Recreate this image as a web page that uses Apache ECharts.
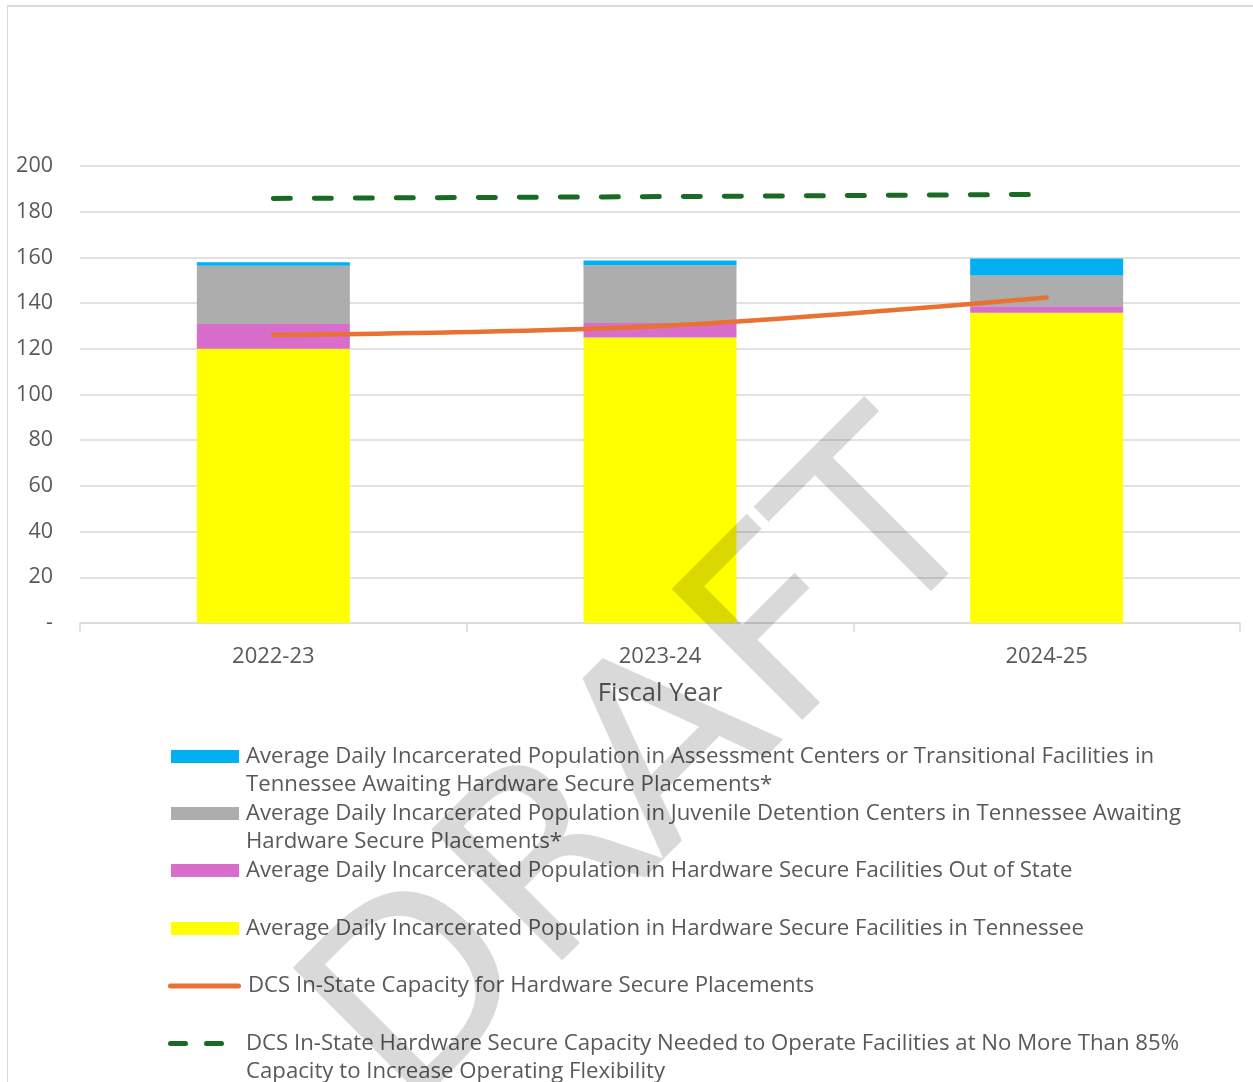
<!DOCTYPE html>
<html>
<head>
<meta charset="utf-8">
<script src="https://cdn.jsdelivr.net/npm/echarts@6/dist/echarts.min.js"></script>
<style>
  html, body { margin: 0; padding: 0; background: #fff; }
  #frame { position: absolute; left: 7px; top: 5px; width: 1260px; height: 1100px; border-left: 1px solid #d9d9d9; border-top: 2px solid #d9d9d9; }
  #chart { position: absolute; left: 0; top: 0; width: 1253px; height: 1082px; }
</style>
</head>
<body>
<div id="frame"></div>
<div id="chart"></div>
<script>
const categories = ['2022-23', '2023-24', '2024-25'];
const inStateHW = [120, 125, 135.8];
const outOfStateHW = [10.9, 6.3, 2.8];
const juvenileDetention = [25.5, 25.3, 13.5];
const assessmentCenters = [1.5, 2.0, 7.4];
const inStateCapacity = [126, 130, 142.5];
const capacityNeeded85 = [185.8, 186.6, 187.6];
const yTicks = { min: 0, max: 200, interval: 20 };

const nameBlue = 'Average Daily Incarcerated Population in Assessment Centers or Transitional Facilities in Tennessee Awaiting Hardware Secure Placements*';
const nameGray = 'Average Daily Incarcerated Population in Juvenile Detention Centers in Tennessee Awaiting Hardware Secure Placements*';
const namePink = 'Average Daily Incarcerated Population in Hardware Secure Facilities Out of State';
const nameYellow = 'Average Daily Incarcerated Population in Hardware Secure Facilities in Tennessee';
const nameOrange = 'DCS In-State Capacity for Hardware Secure Placements';
const nameGreen = 'DCS In-State Hardware Secure Capacity Needed to Operate Facilities at No More Than 85% Capacity to Increase Operating Flexibility';

const wrapped = {};
wrapped[nameBlue] = ' \nAverage Daily Incarcerated Population in Assessment Centers or Transitional Facilities in\nTennessee Awaiting Hardware Secure Placements*';
wrapped[nameGray] = ' \nAverage Daily Incarcerated Population in Juvenile Detention Centers in Tennessee Awaiting\nHardware Secure Placements*';
wrapped[nameGreen] = ' \nDCS In-State Hardware Secure Capacity Needed to Operate Facilities at No More Than 85%\nCapacity to Increase Operating Flexibility';

const FONT = '"Open Sans"';
const TXT = '#595959';
const LH = 28.5;

const ORANGE_ICON = 'path://M2.5,0 H70.5 A2.5,2.5 0 0 1 70.5,5 H2.5 A2.5,2.5 0 0 1 2.5,0 Z';
const GREEN_ICON = 'path://M2.5,0 H17.5 A2.5,2.5 0 0 1 17.5,5 H2.5 A2.5,2.5 0 0 1 2.5,0 Z M38.5,0 H53.5 A2.5,2.5 0 0 1 53.5,5 H38.5 A2.5,2.5 0 0 1 38.5,0 Z';

function leg(name, top, icon, opts) {
  opts = opts || {};
  return {
    data: [{ name: name, icon: icon }], left: opts.left || 171, top: top, padding: 0, orient: 'vertical',
    itemWidth: opts.w || 68, itemHeight: opts.h || 13, itemGap: 0,
    formatter: function (n) { return wrapped[n] || n; },
    textStyle: { color: TXT, fontFamily: FONT, fontSize: 22.2, lineHeight: LH, padding: [0, 0, 0, opts.pad || 2] }
  };
}

const chart = echarts.init(document.getElementById('chart'), null, { renderer: 'canvas' });
chart.setOption({
  animation: false,
  backgroundColor: 'transparent',
  grid: { left: 80, right: 13, top: 166, bottom: 459, containLabel: false },
  xAxis: {
    type: 'category', data: categories,
    axisLine: { lineStyle: { color: '#d9d9d9', width: 1.5 } },
    axisTick: { show: true, length: 9, lineStyle: { color: '#d9d9d9', width: 1.5 } },
    axisLabel: { color: TXT, fontFamily: FONT, fontSize: 22, margin: 23 },
    name: 'Fiscal Year', nameLocation: 'middle', nameGap: 58,
    nameTextStyle: { color: TXT, fontFamily: FONT, fontSize: 25.5 }
  },
  yAxis: {
    type: 'value', min: yTicks.min, max: yTicks.max, interval: yTicks.interval,
    axisLine: { show: false }, axisTick: { show: false },
    splitLine: { lineStyle: { color: '#d9d9d9', width: 1.5 } },
    axisLabel: { color: TXT, fontFamily: FONT, fontSize: 21.5, margin: 27, padding: [4, 0, 0, 0],
      formatter: function (v) { return v === 0 ? '-' : String(v); } }
  },
  legend: [
    leg(nameBlue, 756.5 - 1.5 * LH, 'rect'),
    leg(nameGray, 813.5 - 1.5 * LH, 'rect'),
    leg(namePink, 870.5 - LH / 2, 'rect'),
    leg(nameYellow, 928.5 - LH / 2, 'rect'),
    leg(nameOrange, 986 - LH / 2, ORANGE_ICON, { left: 168, w: 73, h: 5, pad: 0 }),
    leg(nameGreen, 1043.5 - 1.5 * LH, GREEN_ICON, { left: 168, w: 56, h: 5, pad: 17 })
  ],
  series: [
    { name: nameYellow, type: 'bar', stack: 'pop', data: inStateHW, barWidth: 153,
      itemStyle: { color: '#FFFF00' } },
    { name: namePink, type: 'bar', stack: 'pop', data: outOfStateHW, barWidth: 153,
      itemStyle: { color: '#D86DCB' } },
    { name: nameGray, type: 'bar', stack: 'pop', data: juvenileDetention, barWidth: 153,
      itemStyle: { color: '#ADADAD' } },
    { name: nameBlue, type: 'bar', stack: 'pop', data: assessmentCenters, barWidth: 153,
      itemStyle: { color: '#00B0F0' } },
    { name: nameOrange, type: 'line', data: inStateCapacity, smooth: 0.35, symbol: 'none',
      lineStyle: { color: '#E97132', width: 4.5, cap: 'round' }, itemStyle: { color: '#E97132' }, z: 5 },
    { name: nameGreen, type: 'line', data: capacityNeeded85, symbol: 'none',
      lineStyle: { color: '#196B24', width: 5, type: [17, 24], cap: 'round' }, itemStyle: { color: '#196B24' }, z: 5 }
  ],
  graphic: [
    { type: 'text', x: 948, y: 481, rotation: Math.PI / 4, z: 100, silent: true,
      style: { text: 'DRAFT', fill: 'rgba(0,0,0,0.15)', font: '254px "DejaVu Sans"',
        textAlign: 'right', textVerticalAlign: 'middle', align: 'right', verticalAlign: 'middle' } }
  ]
});
</script>
</body>
</html>
